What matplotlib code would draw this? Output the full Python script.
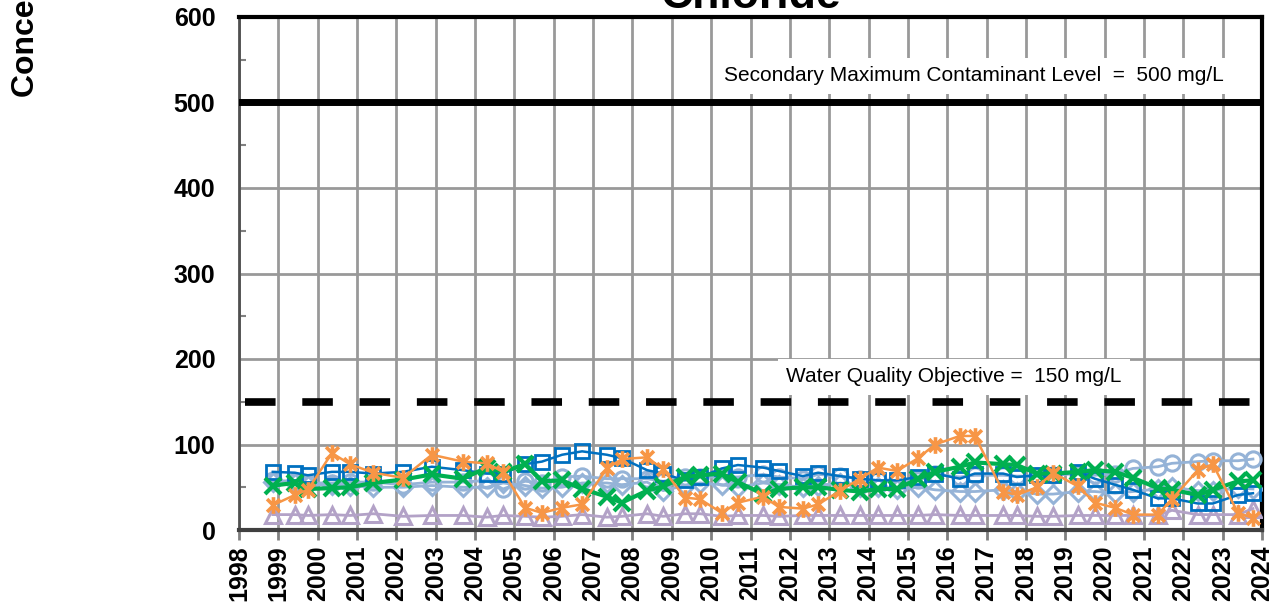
import matplotlib
matplotlib.use("Agg")
import matplotlib.pyplot as plt
from matplotlib.path import Path
import numpy as np

plt.rcParams['font.family'] = ['Liberation Sans', 'DejaVu Sans']

# ---- data ----
dates = [1998.86, 1999.42, 1999.75, 2000.36, 2000.82, 2001.41, 2002.17, 2002.90, 2003.69, 2004.30, 2004.71,
         2005.27, 2005.70, 2006.21, 2006.72, 2007.35, 2007.73, 2008.37, 2008.78, 2009.33, 2009.72, 2010.27,
         2010.68, 2011.32, 2011.72, 2012.33, 2012.72, 2013.28, 2013.78, 2014.24, 2014.72, 2015.26, 2015.69,
         2016.32, 2016.70, 2017.42, 2017.77, 2018.28, 2018.69, 2019.32, 2019.75, 2020.26, 2020.72, 2021.35,
         2021.71, 2022.37, 2022.75, 2023.39, 2023.77]

squares = [68, 67, 64, 68, 68, 66, 68, 74, 70, 66, 66,
           77, 80, 88, 92, 88, 84, 70, 66, 58, 62, 72,
           76, 73, 69, 63, 67, 63, 60, 58, 58, 62, 66,
           60, 66, 66, 62, 64, 64, 68, 60, 53, 47, 37,
           37, 31, 31, 41, 43]

circles = [58, 57, 55, 55, 56, 56, 53, 56, 56, 58, 48,
           57, 55, 62, 63, 60, 60, 60, 57, 62, 62, 62,
           62, 65, 62, 60, 65, 63, 60, 58, 58, 58, 65,
           62, 64, 64, 63, 63, 64, 66, 64, 66, 72, 74,
           78, 80, 81, 81, 83]

diamonds = [56, 55, 53, 53, 52, 50, 50, 52, 50, 50, 55,
            52, 49, 50, 55, 55, 53, 56, 46, 52, 55, 53,
            50, 55, 53, 50, 52, 55, 50, 50, 48, 50, 47,
            45, 45, 47, 45, 42, 42, 45, 45, 43, 45, 48,
            50, 46, 46, 49, 48]

triangles = [18, 18, 17, 18, 17, 19, 16, 17, 17, 15, 17,
             16, 15, 16, 18, 15, 16, 19, 16, 19, 19, 16,
             17, 17, 16, 17, 17, 17, 17, 17, 17, 17, 18,
             17, 17, 17, 17, 16, 16, 17, 17, 17, 17, 17,
             23, 18, 18, 18, 25]

stars = [29, 41, 47, 90, 77, 67, 61, 88, 80, 78, 68,
         26, 20, 26, 30, 72, 83, 85, 71, 38, 36, 20,
         32, 39, 27, 25, 30, 46, 60, 73, 69, 84, 100,
         110, 110, 45, 41, 50, 67, 51, 32, 26, 18, 18,
         36, 70, 77, 20, 14]

crosses = [52, 55, 48, 49, 50, 55, 59, 65, 60, 73, 68,
           77, 57, 58, 48, 39, 32, 46, 51, 62, 64, 66,
           56, 42, 48, 50, 50, 47, 45, 48, 48, 60, 68,
           74, 79, 77, 76, 66, 66, 68, 70, 68, 61, 49,
           47, 41, 47, 57, 58]

smcl = 500
wqo = 150
years = list(range(1998, 2025))
yticks = [0, 100, 200, 300, 400, 500, 600]

# ---- figure ----
W, H = 1284, 608
fig = plt.figure(figsize=(W / 100, H / 100), dpi=100)
ax = fig.add_axes([239 / W, 1 - 530 / H, (1262 - 239) / W, (530 - 17) / H])

ax.set_xlim(1998, 2024)
ax.set_ylim(0, 600)
ax.set_xticks(years)
ax.set_xticklabels([str(y) for y in years], rotation=90, fontsize=18, fontweight='bold')
ax.set_yticks(yticks)
ax.set_yticklabels([str(v) for v in yticks], fontsize=18, fontweight='bold')
ax.set_yticks(np.arange(50, 600, 100), minor=True)
ax.tick_params(axis='x', direction='out', length=7, width=2, color='#808080', pad=4)
ax.tick_params(axis='y', which='major', length=0, pad=17)
ax.tick_params(axis='y', which='minor', direction='in', length=5, width=1.5, color='#808080')
ax.grid(True, which='major', color='#999999', linewidth=2)
ax.set_axisbelow(True)

for s in ['top', 'right']:
    ax.spines[s].set_color('black')
    ax.spines[s].set_linewidth(3)
ax.spines['left'].set_color('#505050')
ax.spines['left'].set_linewidth(2)
ax.spines['bottom'].set_color('#404040')
ax.spines['bottom'].set_linewidth(3)

# reference lines
ax.axhline(smcl, color='black', linewidth=5, zorder=3)
ax.plot([1998.15, 2024], [wqo, wqo], color='black', linewidth=5.5, dashes=(4.0, 3.5), zorder=3)

ax.text(2016.68, 531, 'Secondary Maximum Contaminant Level  =  500 mg/L', fontsize=15,
        ha='center', va='center', zorder=4,
        bbox=dict(facecolor='white', edgecolor='none', pad=6))
ax.text(2016.17, 179, 'Water Quality Objective =  150 mg/L', fontsize=15,
        ha='center', va='center', zorder=4,
        bbox=dict(facecolor='white', edgecolor='none', pad=6))

# asterisk marker (x with vertical bar)
star_path = Path([(-1, -1), (1, 1), (-1, 1), (1, -1), (0, -1.3), (0, 1.3)],
                 [Path.MOVETO, Path.LINETO, Path.MOVETO, Path.LINETO, Path.MOVETO, Path.LINETO])

ax.plot(dates, triangles, color='#B3A2C7', lw=2, marker='^', ms=11, mfc='none', mew=2.2, zorder=5)
ax.plot(dates, diamonds, color='#95B3D7', lw=2, marker='D', ms=9, mfc='none', mew=2.2, zorder=5)
ax.plot(dates, circles, color='#95B3D7', lw=2, marker='o', ms=11, mfc='none', mew=2.2, zorder=5)
ax.plot(dates, squares, color='#0070C0', lw=1.8, marker='s', ms=10, mfc='none', mew=2, zorder=6)
ax.plot(dates, crosses, color='#00B050', lw=3, marker='x', ms=11, mew=3, zorder=7)
ax.plot(dates, stars, color='#F79646', lw=1.8, marker=star_path, ms=12, mfc='none', mew=2.6, zorder=8)

# title and y-label (partly outside the figure, as in the reference)
fig.text(750 / W, 1 - 8 / H, 'Chloride', fontsize=32, fontweight='bold', ha='center', va='baseline')
fig.text(26 / W, 1 - 97 / H, 'Concentration (mg/L)', fontsize=23, fontweight='bold',
         rotation=90, ha='center', va='bottom')

fig.savefig('out.png', dpi=100)
